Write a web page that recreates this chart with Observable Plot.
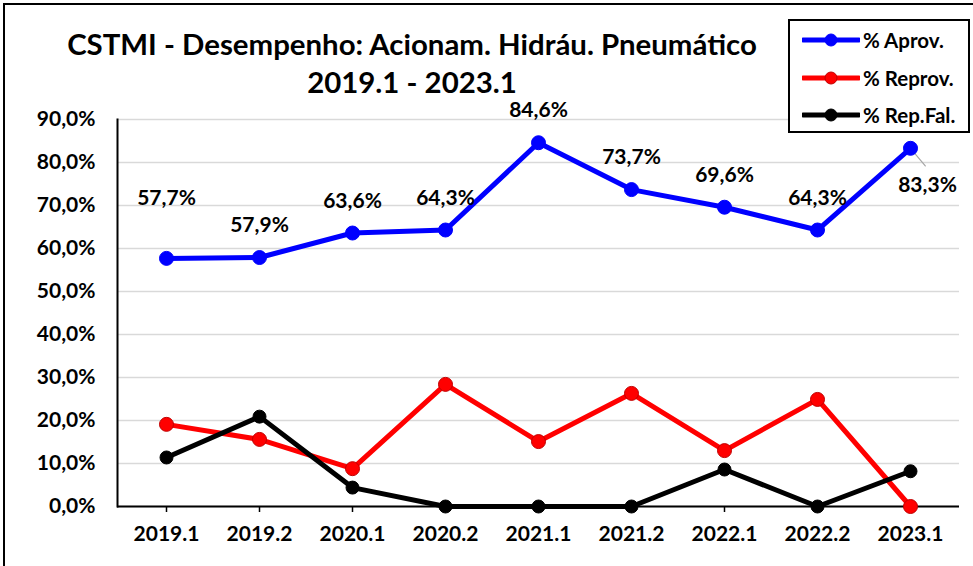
<!DOCTYPE html>
<html><head><meta charset="utf-8">
<script src="https://cdn.jsdelivr.net/npm/d3@7"></script>
<script src="https://cdn.jsdelivr.net/npm/@observablehq/plot@0.6"></script>
<style>
body{margin:0;background:#fff;}
#wrap{position:relative;width:973px;height:566px;overflow:hidden;font-family:Lato, "Open Sans", sans-serif;background:#fff;}
#chart{position:absolute;left:0;top:0;}
#frame{position:absolute;left:3px;top:3px;width:1000px;height:1000px;border-left:2px solid #000;border-top:2px solid #000;pointer-events:none;}
#title{position:absolute;left:0;width:824px;top:25px;text-align:center;font-weight:bold;font-size:29.4px;line-height:38px;color:#000;}
#legend{position:absolute;left:788px;top:19px;width:178px;height:110px;border:2px solid #000;background:#fff;}
.row{position:absolute;left:0;height:30px;display:flex;align-items:center;}
.row svg{margin-left:12px;}
.row span{font-weight:bold;font-size:20.5px;margin-left:3px;}
</style></head>
<body>
<div id="wrap">
  <div id="chart"></div>
  <div id="frame"></div>
  <div id="title">CSTMI - Desempenho: Acionam. Hidráu. Pneumático<br>2019.1 - 2023.1</div>
  <div id="legend"></div>
</div>
<script>
const periods = ["2019.1","2019.2","2020.1","2020.2","2021.1","2021.2","2022.1","2022.2","2023.1"];
const aprov  = [57.7, 57.9, 63.6, 64.3, 84.6, 73.7, 69.6, 64.3, 83.3];
const reprov = [19.1, 15.6, 8.8, 28.4, 15.1, 26.3, 13.0, 24.9, 0.0];
const repFal = [11.4, 20.9, 4.4, 0.0, 0.0, 0.0, 8.6, 0.0, 8.2];
const yTicks = [0, 10, 20, 30, 40, 50, 60, 70, 80, 90];
const seriesNames = ["% Aprov.", "% Reprov.", "% Rep.Fal."];
const seriesColors = ["#0000ff", "#ff0000", "#000000"];
const seriesStrokes = ["#0000ff", "#c00000", "#000000"];

const fmt = v => v.toFixed(1).replace(".", ",") + "%";
const rowsOf = (vals, name) => periods.map((p, i) => ({period: p, value: vals[i], series: name}));
const aprovRows = rowsOf(aprov, seriesNames[0]);
const reprovRows = rowsOf(reprov, seriesNames[1]);
const repFalRows = rowsOf(repFal, seriesNames[2]);

const FONT = 21;
const WEIGHT = "bold";
const lastP = periods[periods.length - 1];
const firstP = periods[0];

const seriesMarks = (rows, k) => [
  Plot.line(rows, {x: "period", y: "value", stroke: seriesColors[k], strokeWidth: 5}),
  Plot.dot(rows, {x: "period", y: "value", r: k === 2 ? 6.5 : 7, fill: seriesColors[k], stroke: seriesStrokes[k], strokeWidth: 1})
];

const chart = Plot.plot({
  width: 973,
  height: 566,
  marginLeft: 117,
  marginRight: 14,
  marginTop: 119,
  marginBottom: 60,
  style: {fontFamily: "Lato, 'Open Sans', sans-serif", background: "transparent", color: "#000"},
  x: {type: "point", domain: periods, padding: 0.5},
  y: {domain: [0, 90]},
  marks: [
    Plot.gridY(yTicks, {stroke: "#d9d9d9", strokeOpacity: 1, strokeWidth: 1.5}),
    Plot.axisY(yTicks, {tickSize: 0, tickPadding: 22, tickFormat: fmt, fontSize: FONT, fontWeight: WEIGHT, label: null}),
    Plot.axisX({tickSize: 6, tickPadding: 14, fontSize: FONT, fontWeight: WEIGHT, label: null, stroke: "#000", strokeWidth: 1.5}),
    Plot.frame({anchor: "left", stroke: "#000", strokeWidth: 2}),
    Plot.ruleY([0], {stroke: "#000", strokeWidth: 2}),
    Plot.vector(aprovRows.filter(d => d.period === lastP), {
      x: "period", y: "value", length: 23, rotate: 140, anchor: "start", stroke: "#a6a6a6", strokeWidth: 1.2,
      shape: {draw(context, l) { context.moveTo(0, 0); context.lineTo(0, -l); }}
    }),
    ...seriesMarks(aprovRows, 0),
    ...seriesMarks(reprovRows, 1),
    ...seriesMarks(repFalRows, 2),
    Plot.text(aprovRows.filter(d => d.period !== firstP && d.period !== lastP), {x: "period", y: "value", text: d => fmt(d.value), dy: -32, fontSize: FONT, fontWeight: WEIGHT, fill: "#000"}),
    Plot.text(aprovRows.filter(d => d.period === firstP), {x: "period", y: "value", text: d => fmt(d.value), dy: -60, fontSize: FONT, fontWeight: WEIGHT, fill: "#000"}),
    Plot.text(aprovRows.filter(d => d.period === lastP), {x: "period", y: "value", text: d => fmt(d.value), dx: 17, dy: 37, fontSize: FONT, fontWeight: WEIGHT, fill: "#000"})
  ]
});
document.getElementById("chart").appendChild(chart);

// legend
const legend = document.getElementById("legend");
seriesNames.forEach((name, k) => {
  const row = document.createElement("div");
  row.className = "row";
  row.style.top = (4 + k * 37.5) + "px";
  row.innerHTML = `<svg width="58" height="16"><line x1="1" y1="8" x2="57" y2="8" stroke="${seriesColors[k]}" stroke-width="5" stroke-linecap="round"/><circle cx="29" cy="8" r="6" fill="${seriesColors[k]}" stroke="${seriesStrokes[k]}"/></svg><span>${name}</span>`;
  legend.appendChild(row);
});
</script>
</body></html>
